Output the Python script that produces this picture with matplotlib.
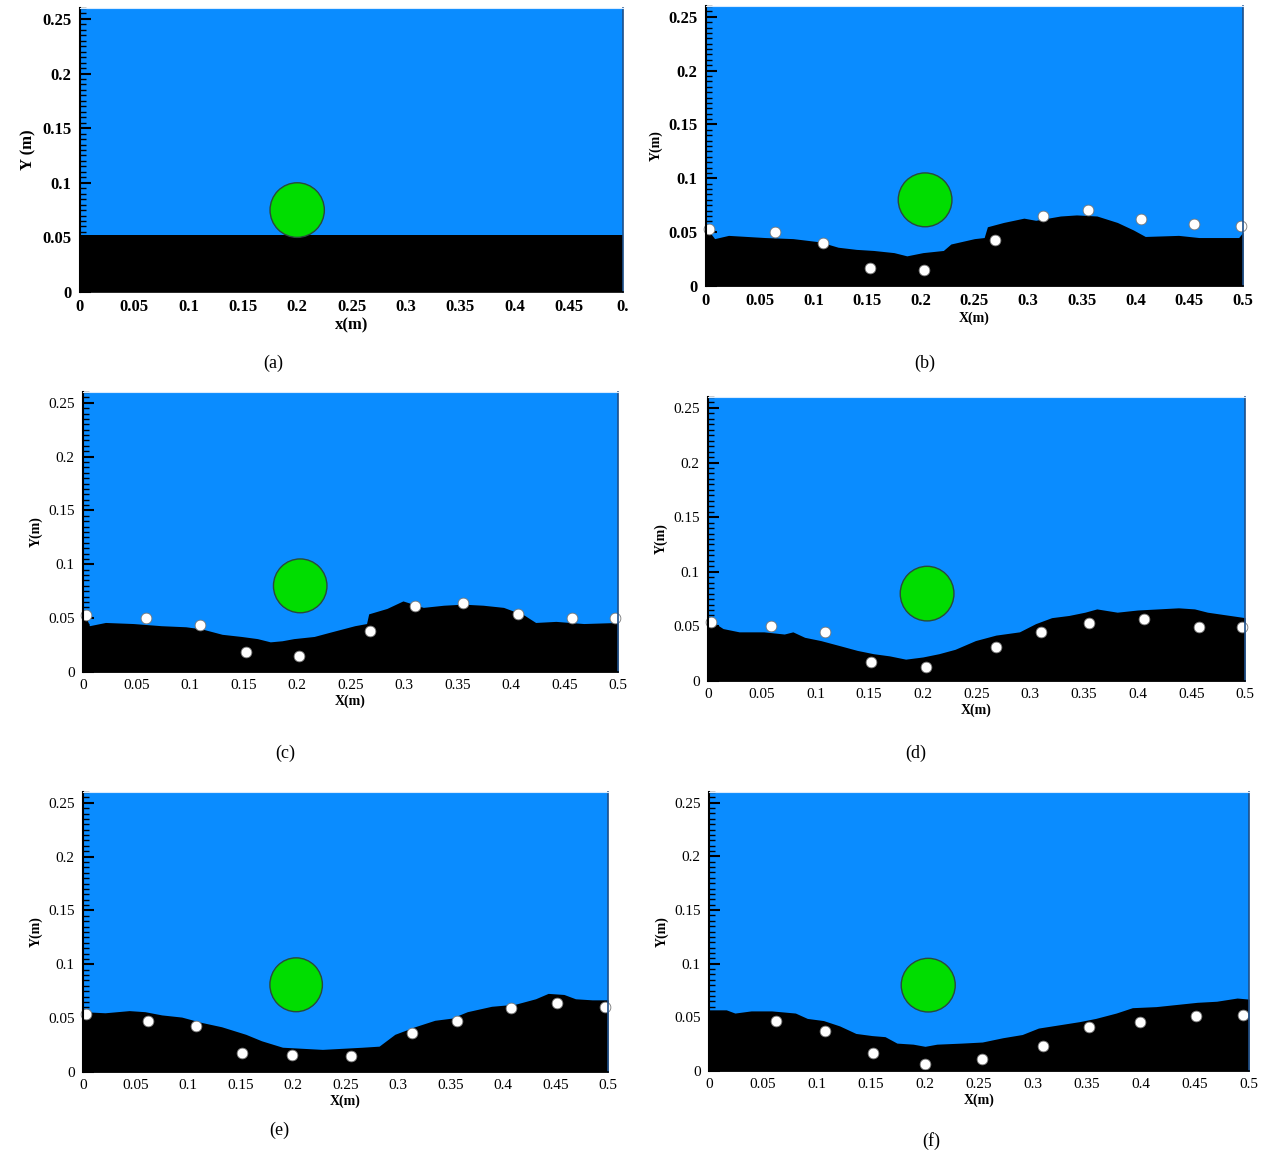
import matplotlib
matplotlib.use("Agg")
import matplotlib.pyplot as plt
from matplotlib.patches import Circle
from matplotlib.ticker import MultipleLocator, FixedLocator

# ---------------- data ----------------
panel_labels = ["(a)", "(b)", "(c)", "(d)", "(e)", "(f)"]
xtick_vals = [0, 0.05, 0.1, 0.15, 0.2, 0.25, 0.3, 0.35, 0.4, 0.45, 0.5]
xtick_labels = ["0", "0.05", "0.1", "0.15", "0.2", "0.25", "0.3", "0.35", "0.4", "0.45", "0.5"]
ytick_vals = [0, 0.05, 0.1, 0.15, 0.2, 0.25]
ytick_labels = ["0", "0.05", "0.1", "0.15", "0.2", "0.25"]

# bed surface profiles
bed_a_x = [0.0, 0.5]
bed_a_y = [0.052, 0.052]

bed_b_x = [0.0, 0.002, 0.008, 0.021, 0.055, 0.081, 0.106, 0.123, 0.140, 0.156, 0.175, 0.187,
           0.202, 0.221, 0.228, 0.250, 0.259, 0.262, 0.277, 0.296, 0.307, 0.330, 0.345, 0.364,
           0.383, 0.398, 0.409, 0.440, 0.459, 0.496, 0.5]
bed_b_y = [0.052, 0.052, 0.044, 0.047, 0.045, 0.044, 0.041, 0.036, 0.034, 0.033, 0.031, 0.028,
           0.031, 0.033, 0.039, 0.044, 0.045, 0.055, 0.059, 0.063, 0.061, 0.065, 0.066, 0.065,
           0.059, 0.052, 0.046, 0.047, 0.045, 0.045, 0.050]

bed_c_x = [0.0, 0.002, 0.006, 0.021, 0.047, 0.073, 0.096, 0.111, 0.130, 0.148, 0.163, 0.175,
           0.186, 0.197, 0.216, 0.231, 0.254, 0.265, 0.267, 0.284, 0.299, 0.318, 0.337, 0.355,
           0.374, 0.393, 0.412, 0.423, 0.442, 0.468, 0.5]
bed_c_y = [0.053, 0.053, 0.043, 0.046, 0.045, 0.043, 0.042, 0.040, 0.035, 0.033, 0.031, 0.028,
           0.029, 0.031, 0.033, 0.037, 0.043, 0.045, 0.054, 0.059, 0.066, 0.060, 0.062, 0.063,
           0.062, 0.060, 0.053, 0.046, 0.047, 0.045, 0.046]

bed_d_x = [0.0, 0.014, 0.029, 0.052, 0.071, 0.079, 0.090, 0.105, 0.124, 0.139, 0.154, 0.169,
           0.184, 0.200, 0.215, 0.230, 0.249, 0.268, 0.290, 0.305, 0.320, 0.336, 0.351, 0.362,
           0.381, 0.400, 0.419, 0.438, 0.453, 0.465, 0.5]
bed_d_y = [0.057, 0.048, 0.045, 0.045, 0.043, 0.045, 0.040, 0.037, 0.032, 0.028, 0.025, 0.023,
           0.020, 0.022, 0.025, 0.029, 0.037, 0.042, 0.045, 0.0525, 0.058, 0.060, 0.063, 0.066,
           0.063, 0.065, 0.066, 0.067, 0.066, 0.063, 0.058]

bed_e_x = [0.0, 0.021, 0.044, 0.059, 0.075, 0.094, 0.113, 0.132, 0.155, 0.170, 0.190, 0.209,
           0.228, 0.247, 0.266, 0.282, 0.297, 0.316, 0.335, 0.351, 0.366, 0.389, 0.412, 0.431,
           0.443, 0.458, 0.469, 0.485, 0.5]
bed_e_y = [0.056, 0.055, 0.057, 0.056, 0.053, 0.051, 0.046, 0.042, 0.035, 0.029, 0.023, 0.022,
           0.021, 0.022, 0.023, 0.024, 0.035, 0.042, 0.048, 0.050, 0.056, 0.061, 0.063, 0.068,
           0.073, 0.072, 0.068, 0.067, 0.067]

bed_f_x = [0.0, 0.016, 0.024, 0.039, 0.058, 0.080, 0.091, 0.106, 0.121, 0.136, 0.151, 0.163,
           0.174, 0.189, 0.200, 0.211, 0.234, 0.253, 0.272, 0.290, 0.305, 0.324, 0.343, 0.358,
           0.377, 0.392, 0.414, 0.433, 0.452, 0.470, 0.489, 0.5]
bed_f_y = [0.057, 0.057, 0.054, 0.056, 0.056, 0.054, 0.049, 0.047, 0.042, 0.035, 0.033, 0.032,
           0.026, 0.025, 0.023, 0.025, 0.026, 0.027, 0.031, 0.034, 0.040, 0.043, 0.046, 0.049,
           0.054, 0.059, 0.060, 0.062, 0.064, 0.065, 0.068, 0.067]

# tracer particle positions (white dots)
dots_b_x = [0.003, 0.064, 0.109, 0.153, 0.203, 0.269, 0.314, 0.356, 0.405, 0.454, 0.498]
dots_b_y = [0.053, 0.050, 0.040, 0.017, 0.015, 0.043, 0.065, 0.071, 0.062, 0.058, 0.056]
dots_c_x = [0.003, 0.059, 0.109, 0.152, 0.202, 0.268, 0.310, 0.355, 0.407, 0.457, 0.497]
dots_c_y = [0.053, 0.050, 0.044, 0.019, 0.015, 0.038, 0.061, 0.064, 0.054, 0.050, 0.050]
dots_d_x = [0.003, 0.059, 0.109, 0.152, 0.203, 0.268, 0.310, 0.355, 0.406, 0.457, 0.497]
dots_d_y = [0.054, 0.050, 0.045, 0.017, 0.013, 0.031, 0.045, 0.053, 0.057, 0.049, 0.049]
dots_e_x = [0.003, 0.062, 0.108, 0.151, 0.199, 0.255, 0.313, 0.356, 0.408, 0.451, 0.497]
dots_e_y = [0.054, 0.047, 0.043, 0.0175, 0.016, 0.015, 0.036, 0.047, 0.059, 0.064, 0.060]
dots_f_x = [0.062, 0.107, 0.152, 0.200, 0.253, 0.309, 0.352, 0.399, 0.451, 0.494]
dots_f_y = [0.047, 0.037, 0.017, 0.0065, 0.011, 0.023, 0.041, 0.046, 0.051, 0.052]

# cylinder centre (x, y) per panel and radius
cyl_x = [0.200, 0.204, 0.203, 0.204, 0.203, 0.203]
cyl_y = [0.075, 0.080, 0.080, 0.080, 0.081, 0.080]
cyl_r = 0.025

beds = [(bed_a_x, bed_a_y), (bed_b_x, bed_b_y), (bed_c_x, bed_c_y),
        (bed_d_x, bed_d_y), (bed_e_x, bed_e_y), (bed_f_x, bed_f_y)]
dots = [None, (dots_b_x, dots_b_y), (dots_c_x, dots_c_y), (dots_d_x, dots_d_y),
        (dots_e_x, dots_e_y), (dots_f_x, dots_f_y)]

# ---------------- layout ----------------
W, H = 1265, 1154
boxes = [  # left, right, top, bottom in pixels
    (80, 623, 8, 292),
    (706, 1243, 6, 286),
    (83, 618, 392, 672),
    (708, 1245, 397, 681),
    (83, 608, 792, 1072),
    (709, 1249, 792, 1071),
]
label_pos = [(273, 363), (925, 363), (285, 753), (916, 753), (279, 1130), (931, 1141)]
xlabels = ["x(m)", "X(m)", "X(m)", "X(m)", "X(m)", "X(m)"]

BLUE = "#0a8cff"
GREEN = "#00dd00"
serif = ["Liberation Serif", "DejaVu Serif"]

fig = plt.figure(figsize=(W / 100, H / 100), dpi=100)

for i, (l, r, t, b) in enumerate(boxes):
    ax = fig.add_axes([l / W, 1 - b / H, (r - l) / W, (b - t) / H])
    ax.set_facecolor(BLUE)
    ax.set_xlim(0, 0.5)
    ax.set_ylim(0, 0.26)
    bx, by = beds[i]
    ax.fill_between(bx, 0, by, color="black", linewidth=0, zorder=2)
    if dots[i] is not None:
        ax.scatter(dots[i][0], dots[i][1], s=60, facecolor="white",
                   edgecolor="#777777", linewidth=0.6, zorder=4, clip_on=False)
    ax.add_patch(Circle((cyl_x[i], cyl_y[i]), cyl_r, facecolor=GREEN,
                        edgecolor="#2a4a3a", linewidth=1.0, zorder=3))

    big = (i == 0)
    fs = 12 if i < 2 else 11
    weight = "bold" if i < 2 else "normal"
    ax.xaxis.set_major_locator(FixedLocator(xtick_vals))
    xl = xtick_labels[:-1] + ["0."] if i == 0 else xtick_labels
    ax.set_xticklabels(xl, fontsize=fs, family=serif, fontweight=weight)
    ax.yaxis.set_major_locator(FixedLocator(ytick_vals))
    ax.set_yticklabels(ytick_labels, fontsize=fs, family=serif, fontweight=weight)
    ax.yaxis.set_minor_locator(MultipleLocator(0.005))
    ax.tick_params(axis="y", which="major", direction="in", length=8, width=1.5, pad=6)
    ax.tick_params(axis="y", which="minor", direction="in", length=4, width=1)
    ax.tick_params(axis="x", which="major", direction="in", length=0, pad=5)
    ax.spines["left"].set_linewidth(1.5)
    ax.spines["bottom"].set_linewidth(1.2)
    ax.spines["top"].set_color("#d8ebff")
    ax.spines["top"].set_linewidth(0.8)
    ax.spines["right"].set_color("#1d4f8a")
    ax.spines["right"].set_linewidth(1.2)
    for s in ax.spines.values():
        s.set_zorder(5)
    ax.set_xlabel(xlabels[i], fontsize=12 if big else 10, family=serif,
                  fontweight="bold", labelpad=2)
    ax.set_ylabel("Y (m)" if big else "Y(m)", fontsize=12 if big else 10,
                  family=serif, fontweight="bold", labelpad=4)

    lx, ly = label_pos[i]
    fig.text(lx / W, 1 - ly / H, panel_labels[i], ha="center", va="center",
             fontsize=13, family=serif)

fig.savefig("out.png", dpi=100)
